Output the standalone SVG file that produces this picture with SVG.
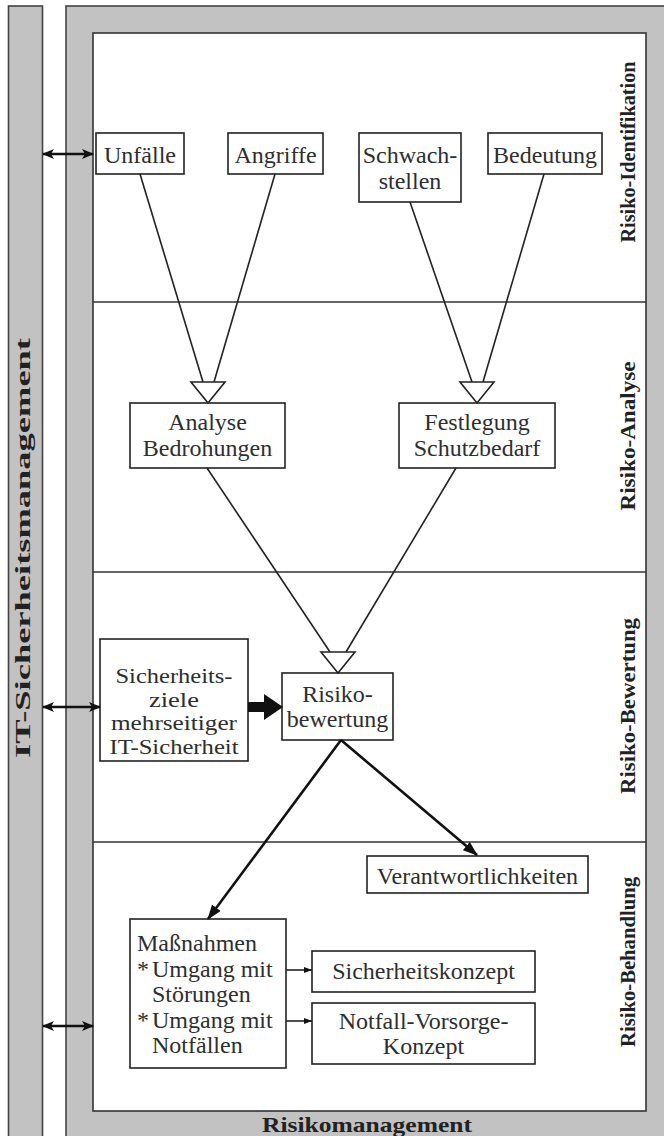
<svg xmlns="http://www.w3.org/2000/svg" width="664" height="1136" viewBox="0 0 664 1136">
<style>
.bar{fill:#c2c2c2;stroke:#444;stroke-width:1.6}
.frame{fill:#fff;stroke:#333;stroke-width:1.6}
.box{fill:#fff;stroke:#222;stroke-width:1.6}
.t{font-family:"Liberation Serif","Times New Roman",serif;font-size:24px;fill:#2e2e2e;text-anchor:middle}
.ts{font-family:"Liberation Serif","Times New Roman",serif;font-size:20px;fill:#2e2e2e;text-anchor:middle}
.tl{font-family:"Liberation Serif","Times New Roman",serif;font-size:24px;fill:#2e2e2e}
.b{font-family:"Liberation Serif","Times New Roman",serif;font-size:21px;font-weight:bold;fill:#222;text-anchor:middle}
.ln{stroke:#222;stroke-width:1.6;fill:none}
.thick{stroke:#111;stroke-width:2.6;fill:none}
.hollow{fill:#fff;stroke:#222;stroke-width:1.6}
.div{stroke:#333;stroke-width:1.4}
</style>
<defs>
<marker id="dh" viewBox="0 0 12 10" refX="11" refY="5" markerWidth="12" markerHeight="10" markerUnits="userSpaceOnUse" orient="auto-start-reverse">
<path d="M0,0 L12,5 L0,10 L3,5 Z" fill="#111"/>
</marker>
<marker id="ah" viewBox="0 0 14 10" refX="13" refY="5" markerWidth="15" markerHeight="11" markerUnits="userSpaceOnUse" orient="auto">
<path d="M0,0 L14,5 L0,10 Z" fill="#111"/>
</marker>
<marker id="sh" viewBox="0 0 8 6" refX="8" refY="3" markerWidth="8" markerHeight="6" markerUnits="userSpaceOnUse" orient="auto">
<path d="M0,0 L8,3 L0,6 Z" fill="#111"/>
</marker>
</defs>
<rect width="664" height="1136" fill="#fff"/>

<g id="it-sicherheitsmanagement">
<rect class="bar" x="8.5" y="6" width="34" height="1140"/>
<text class="b" transform="translate(30,548) rotate(-90)" textLength="420" lengthAdjust="spacingAndGlyphs">IT-Sicherheitsmanagement</text>
</g>

<g id="risikomanagement">
<rect class="bar" x="66" y="6" width="610" height="1140"/>
<rect class="frame" x="93" y="33" width="553" height="1078"/>
<line class="div" x1="93" y1="302" x2="646" y2="302"/>
<line class="div" x1="93" y1="572" x2="646" y2="572"/>
<line class="div" x1="93" y1="842" x2="646" y2="842"/>
<text class="b" x="367" y="1132" textLength="210" lengthAdjust="spacingAndGlyphs">Risikomanagement</text>
<text class="b" transform="translate(635,152) rotate(-90)" textLength="181" lengthAdjust="spacingAndGlyphs">Risiko-Identifikation</text>
<text class="b" transform="translate(635,436) rotate(-90)" textLength="149" lengthAdjust="spacingAndGlyphs">Risiko-Analyse</text>
<text class="b" transform="translate(635,706) rotate(-90)" textLength="176" lengthAdjust="spacingAndGlyphs">Risiko-Bewertung</text>
<text class="b" transform="translate(635,962) rotate(-90)" textLength="170" lengthAdjust="spacingAndGlyphs">Risiko-Behandlung</text>
</g>

<g id="unfaelle">
<rect class="box" x="96" y="133" width="88" height="41"/>
<text class="t" x="140" y="163">Unfälle</text>
</g>
<g id="angriffe">
<rect class="box" x="228" y="133" width="95" height="41"/>
<text class="t" x="275.5" y="163">Angriffe</text>
</g>
<g id="schwachstellen">
<rect class="box" x="359" y="133" width="102" height="69"/>
<text class="t" x="410" y="163">Schwach-</text>
<text class="t" x="410" y="189">stellen</text>
</g>
<g id="bedeutung">
<rect class="box" x="488" y="133" width="114" height="41"/>
<text class="t" x="545" y="163">Bedeutung</text>
</g>
<g id="analyse">
<rect class="box" x="130" y="403" width="155" height="65"/>
<text class="t" x="207.5" y="430">Analyse</text>
<text class="t" x="207.5" y="456">Bedrohungen</text>
</g>
<g id="festlegung">
<rect class="box" x="399" y="403" width="156" height="65"/>
<text class="t" x="477" y="430">Festlegung</text>
<text class="t" x="477" y="456">Schutzbedarf</text>
</g>
<g id="sicherheitsziele">
<rect class="box" x="100" y="639" width="148" height="122"/>
<text class="ts" x="174" y="683" textLength="117" lengthAdjust="spacingAndGlyphs">Sicherheits-</text>
<text class="ts" x="174" y="706.5" textLength="50" lengthAdjust="spacingAndGlyphs">ziele</text>
<text class="ts" x="174" y="730" textLength="126" lengthAdjust="spacingAndGlyphs">mehrseitiger</text>
<text class="ts" x="174" y="753.5" textLength="129" lengthAdjust="spacingAndGlyphs">IT-Sicherheit</text>
</g>
<g id="risikobewertung">
<rect class="box" x="282" y="673" width="111" height="67"/>
<text class="t" x="337.5" y="702">Risiko-</text>
<text class="t" x="337.5" y="727">bewertung</text>
</g>
<g id="verantwortlichkeiten">
<rect class="box" x="367" y="856" width="221" height="37"/>
<text class="t" x="477.5" y="884">Verantwortlichkeiten</text>
</g>
<g id="massnahmen">
<rect class="box" x="130" y="919" width="156" height="149"/>
<text class="tl" x="137" y="951">Maßnahmen</text>
<text class="tl" x="137" y="977">*</text>
<text class="tl" x="152" y="977">Umgang mit</text>
<text class="tl" x="152" y="1002">Störungen</text>
<text class="tl" x="137" y="1028">*</text>
<text class="tl" x="152" y="1028">Umgang mit</text>
<text class="tl" x="152" y="1053">Notfällen</text>
</g>
<g id="sicherheitskonzept">
<rect class="box" x="312" y="951" width="223" height="41"/>
<text class="t" x="423.5" y="979">Sicherheitskonzept</text>
</g>
<g id="notfall">
<rect class="box" x="312" y="1003" width="223" height="61"/>
<text class="t" x="423.5" y="1029">Notfall-Vorsorge-</text>
<text class="t" x="423.5" y="1054">Konzept</text>
</g>

<g id="connectors">
<line class="ln" x1="140" y1="174" x2="203" y2="382"/>
<line class="ln" x1="275" y1="174" x2="214" y2="382"/>
<polygon class="hollow" points="191,382 225,382 208,403"/>
<line class="ln" x1="410" y1="202" x2="472" y2="382"/>
<line class="ln" x1="544" y1="174" x2="483" y2="382"/>
<polygon class="hollow" points="460,382 494,382 477,403"/>
<line class="ln" x1="207" y1="468" x2="330" y2="652"/>
<line class="ln" x1="456" y1="468" x2="346" y2="652"/>
<polygon class="hollow" points="321,652 355,652 338,673"/>
<polygon points="248,702 264,702 264,694 283,707 264,720 264,712 248,712" fill="#111"/>
<line class="thick" x1="341" y1="740" x2="208" y2="919" marker-end="url(#ah)"/>
<line class="thick" x1="341" y1="740" x2="477" y2="855" marker-end="url(#ah)"/>
<line class="ln" x1="286" y1="970" x2="312" y2="970" marker-end="url(#sh)"/>
<line class="ln" x1="286" y1="1021" x2="312" y2="1021" marker-end="url(#sh)"/>
<line class="thick" x1="43" y1="154" x2="93" y2="154" marker-start="url(#dh)" marker-end="url(#dh)"/>
<line class="thick" x1="43" y1="707" x2="100" y2="707" marker-start="url(#dh)" marker-end="url(#dh)"/>
<line class="thick" x1="43" y1="1026" x2="93" y2="1026" marker-start="url(#dh)" marker-end="url(#dh)"/>
</g>
</svg>
